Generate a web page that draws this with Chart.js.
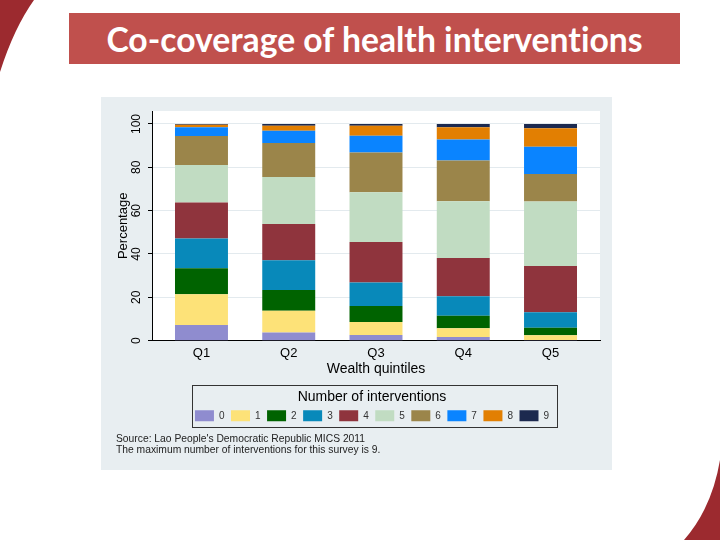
<!DOCTYPE html>
<html lang="en">
<head>
<meta charset="UTF-8">
<title>Co-coverage of health interventions</title>
<script src="https://cdn.jsdelivr.net/npm/chart.js@4.4.0/dist/chart.umd.min.js"></script>
<style>
  html, body { margin: 0; padding: 0; }
  body { width: 720px; height: 540px; position: relative; overflow: hidden; background: #fff; }
  .corner { position: absolute; left: 0; top: 0; }
  .slide-title {
    position: absolute; left: 69px; top: 13px; width: 611px; height: 51px;
    background: #c0504d; color: #fff; text-align: center;
    font-family: Lato, 'Open Sans', sans-serif; font-weight: 700; font-size: 33.7px; line-height: 53px;
    font-variant-ligatures: none;
  }
  .panel { position: absolute; left: 101px; top: 97px; width: 511px; height: 373px; background: #e8eef1; }
</style>
</head>
<body>
<svg class="corner" width="720" height="540">
  <path d="M0,0 L34,0 Q14,28 0,72 Z" fill="#9c2a2f"/>
  <path d="M720,460 Q712,508 684,540 L720,540 Z" fill="#9c2a2f"/>
</svg>
<div class="slide-title">Co-coverage of health interventions</div>
<div class="panel"><canvas id="chart" width="511" height="373"></canvas></div>

<script>
// categories and tick labels
const quintiles = ['Q1', 'Q2', 'Q3', 'Q4', 'Q5'];
const counts = ['0', '1', '2', '3', '4', '5', '6', '7', '8', '9'];
const yTicks = [0, 20, 40, 60, 80, 100];

// percentage of children by number of interventions received (Q1..Q5)
const pct0 = [7.2, 3.8, 2.6, 1.7, 0.3];
const pct1 = [14.2, 10.0, 6.0, 4.0, 2.2];
const pct2 = [12.0, 9.6, 7.4, 5.8, 3.5];
const pct3 = [13.8, 13.7, 10.8, 9.0, 7.1];
const pct4 = [16.6, 16.7, 18.7, 17.7, 21.4];
const pct5 = [17.3, 21.7, 23.0, 26.1, 29.7];
const pct6 = [13.4, 15.7, 18.4, 18.9, 12.7];
const pct7 = [4.0, 5.7, 7.7, 9.6, 12.6];
const pct8 = [1.2, 2.3, 4.6, 5.7, 8.5];
const pct9 = [0.3, 0.8, 0.8, 1.5, 2.0];

const colors = ['#8f8ccf', '#fde278', '#006300', '#0889ba', '#8f343d',
                '#c1dcc2', '#9b854a', '#0a84ff', '#e27f02', '#1c294f'];

Chart.defaults.font.family = "'Liberation Sans', Arial, sans-serif";

// white plot region
const plotBackground = {
    id: 'plotBackground',
    beforeDraw(chart) {
        const { ctx, chartArea: a } = chart;
        ctx.save();
        ctx.fillStyle = '#fff';
        ctx.fillRect(a.left, a.top, a.right - a.left, a.bottom - a.top);
        ctx.restore();
    }
};

// frame around the legend (legend nudged a little left like the original)
const legendFrame = {
    id: 'legendFrame',
    afterLayout(chart) {
        chart.legend.left -= 4;
        chart.legend.right -= 4;
    },
    afterDraw(chart) {
        const lg = chart.legend;
        const boxes = lg.legendHitBoxes;
        if (!boxes || !boxes.length) return;
        const first = boxes[0];
        const last = boxes[boxes.length - 1];
        const left = Math.round(first.left - 3) + 0.5;
        const right = Math.round(last.left + last.width + 8) + 0.5;
        const top = Math.round(lg.top + 7) + 0.5;
        const bottom = Math.round(first.top + first.height + 6) + 0.5;
        const ctx = chart.ctx;
        ctx.save();
        ctx.strokeStyle = '#333';
        ctx.lineWidth = 1;
        ctx.strokeRect(left, top, right - left, bottom - top);
        ctx.restore();
    }
};

const series = [pct0, pct1, pct2, pct3, pct4, pct5, pct6, pct7, pct8, pct9];
const datasets = series.map((data, i) => ({
    label: counts[i],
    data: data,
    backgroundColor: colors[i],
    borderWidth: 0,
    barPercentage: 0.607,
    categoryPercentage: 1
}));

new Chart(document.getElementById('chart'), {
    type: 'bar',
    data: {
        labels: quintiles.map((q, i) => i + 1),
        datasets: datasets
    },
    options: {
        responsive: false,
        animation: false,
        layout: { padding: { left: 15, right: 12, top: 14, bottom: 14 } },
        scales: {
            x: {
                type: 'linear',
                stacked: true,
                offset: false,
                min: 0.433,
                max: 5.567,
                afterBuildTicks: s => { s.ticks = quintiles.map((q, i) => ({ value: i + 1 })); },
                grid: { display: false, drawTicks: false },
                border: { display: true, color: '#000', width: 1 },
                ticks: {
                    callback: v => quintiles[v - 1],
                    font: { size: 13 },
                    color: '#000',
                    padding: 5
                },
                title: {
                    display: true,
                    text: 'Wealth quintiles',
                    font: { size: 14 },
                    color: '#000',
                    padding: { top: -5, bottom: 0 }
                }
            },
            y: {
                stacked: true,
                min: 0,
                max: 106,
                afterBuildTicks: s => { s.ticks = yTicks.map(v => ({ value: v })); },
                afterFit: s => { s.width = 36; },
                grid: { color: '#e3eaee', tickColor: '#000', tickLength: 4 },
                border: { color: '#000', width: 1 },
                ticks: {
                    minRotation: 90,
                    maxRotation: 90,
                    crossAlign: 'center',
                    padding: 1,
                    font: { size: 12 },
                    color: '#000'
                },
                title: {
                    display: true,
                    text: 'Percentage',
                    font: { size: 13 },
                    color: '#000',
                    padding: 0
                }
            }
        },
        plugins: {
            tooltip: { enabled: false },
            legend: {
                position: 'bottom',
                fullSize: false,
                title: {
                    display: true,
                    text: 'Number of interventions',
                    font: { size: 14 },
                    color: '#000',
                    padding: { top: 12, bottom: -3 }
                },
                labels: {
                    boxWidth: 19,
                    boxHeight: 11,
                    padding: 6.5,
                    font: { size: 10 },
                    color: '#333'
                }
            },
            subtitle: {
                display: true,
                position: 'bottom',
                align: 'start',
                text: ["Source: Lao People's Democratic Republic MICS 2011",
                       'The maximum number of interventions for this survey is 9.'],
                font: { size: 10.3, lineHeight: 1.1 },
                color: '#222',
                padding: { top: 2, bottom: 0 }
            }
        }
    },
    plugins: [plotBackground, legendFrame]
});
</script>
</body>
</html>
